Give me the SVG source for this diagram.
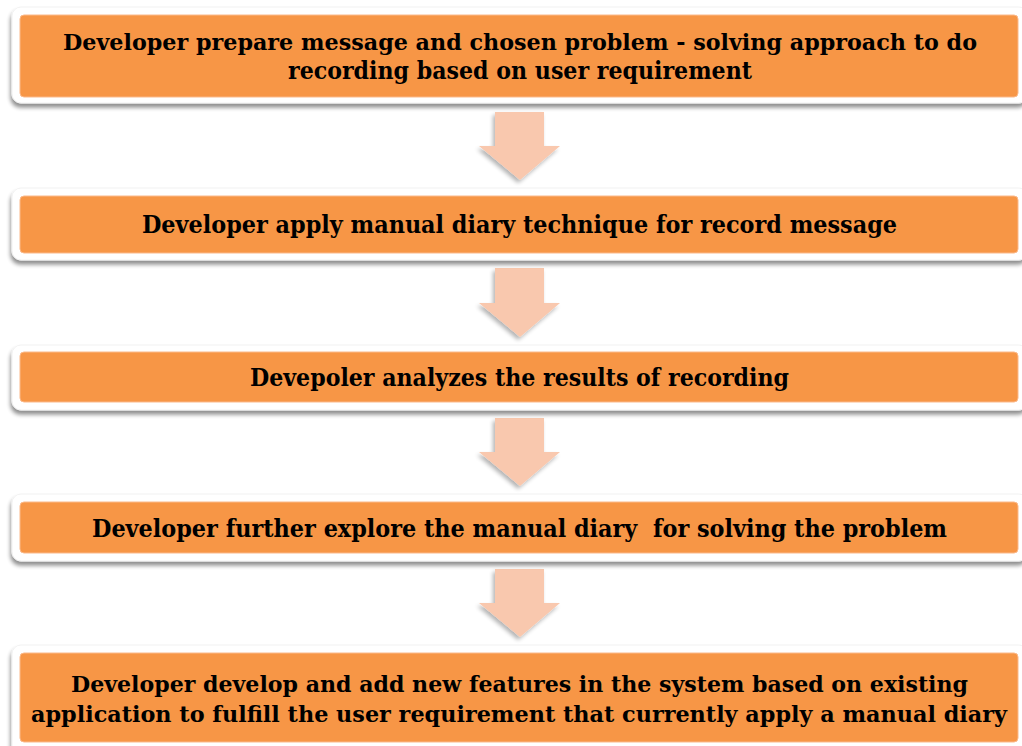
<svg xmlns="http://www.w3.org/2000/svg" width="1022" height="746" viewBox="0 0 1022 746">
<defs>
<filter id="sh" x="-5%" y="-20%" width="110%" height="150%">
<feGaussianBlur in="SourceAlpha" stdDeviation="2"/>
<feOffset dx="-1" dy="4" result="b"/>
<feComponentTransfer><feFuncA type="linear" slope="0.45"/></feComponentTransfer>
<feMerge><feMergeNode/><feMergeNode in="SourceGraphic"/></feMerge>
</filter>
<filter id="ash" x="-30%" y="-20%" width="160%" height="150%">
<feGaussianBlur in="SourceAlpha" stdDeviation="2"/>
<feOffset dx="-2" dy="3" result="b"/>
<feComponentTransfer><feFuncA type="linear" slope="0.3"/></feComponentTransfer>
<feMerge><feMergeNode/><feMergeNode in="SourceGraphic"/></feMerge>
</filter>
</defs>
<style>
.outer{fill:#ffffff;stroke:#f2f2f2;stroke-width:1;filter:url(#sh)}
.inner{fill:#f79646;stroke:#fbb98a;stroke-width:1}
.t{font-family:"DejaVu Serif","Liberation Serif","Times New Roman",serif;font-weight:bold;font-size:23.5px;fill:#000;text-anchor:middle;white-space:pre}
.s{font-size:21.5px}
.arr{fill:#f9c8ae;filter:url(#ash)}
</style>
<rect width="1022" height="746" fill="#ffffff"/>
<g id="connectors">
<path class="arr" d="M495,112 H544 V146 H560 L520,180 L479,146 H495 Z"/>
<path class="arr" d="M495,268 H544 V303 H560 L520,337 L479,303 H495 Z"/>
<path class="arr" d="M495,418 H544 V452 H560 L520,486 L479,452 H495 Z"/>
<path class="arr" d="M495,569 H544 V603 H560 L520,637 L479,603 H495 Z"/>
</g>
<g id="node1">
<rect class="outer" x="12" y="7" width="1016" height="96" rx="9"/>
<rect class="inner" x="20" y="15" width="998" height="82" rx="4"/>
<text class="t s" x="520" y="50" textLength="914" lengthAdjust="spacingAndGlyphs">Developer prepare message and chosen problem - solving approach to do</text>
<text class="t" x="520" y="79" textLength="464" lengthAdjust="spacingAndGlyphs">recording based on user requirement</text>
</g>
<g id="node2">
<rect class="outer" x="12" y="188" width="1016" height="72" rx="9"/>
<rect class="inner" x="20" y="196" width="998" height="57" rx="4"/>
<text class="t" x="519.5" y="233" textLength="755" lengthAdjust="spacingAndGlyphs">Developer apply manual diary technique for record message</text>
</g>
<g id="node3">
<rect class="outer" x="12" y="345" width="1016" height="65" rx="9"/>
<rect class="inner" x="20" y="352" width="998" height="50" rx="4"/>
<text class="t" x="519.5" y="386" textLength="539" lengthAdjust="spacingAndGlyphs">Devepoler analyzes the results of recording</text>
</g>
<g id="node4">
<rect class="outer" x="12" y="494" width="1016" height="67" rx="9"/>
<rect class="inner" x="20" y="502" width="998" height="51" rx="4"/>
<text class="t" x="519.5" y="537" textLength="855" lengthAdjust="spacingAndGlyphs">Developer further explore the manual diary  for solving the problem</text>
</g>
<g id="node5">
<rect class="outer" x="12" y="645" width="1016" height="110" rx="9"/>
<rect class="inner" x="20" y="653" width="998" height="89" rx="4"/>
<text class="t s" x="519.5" y="692" textLength="897" lengthAdjust="spacingAndGlyphs">Developer develop and add new features in the system based on existing</text>
<text class="t s" x="519" y="722" textLength="976" lengthAdjust="spacingAndGlyphs">application to fulfill the user requirement that currently apply a manual diary</text>
</g>
</svg>
